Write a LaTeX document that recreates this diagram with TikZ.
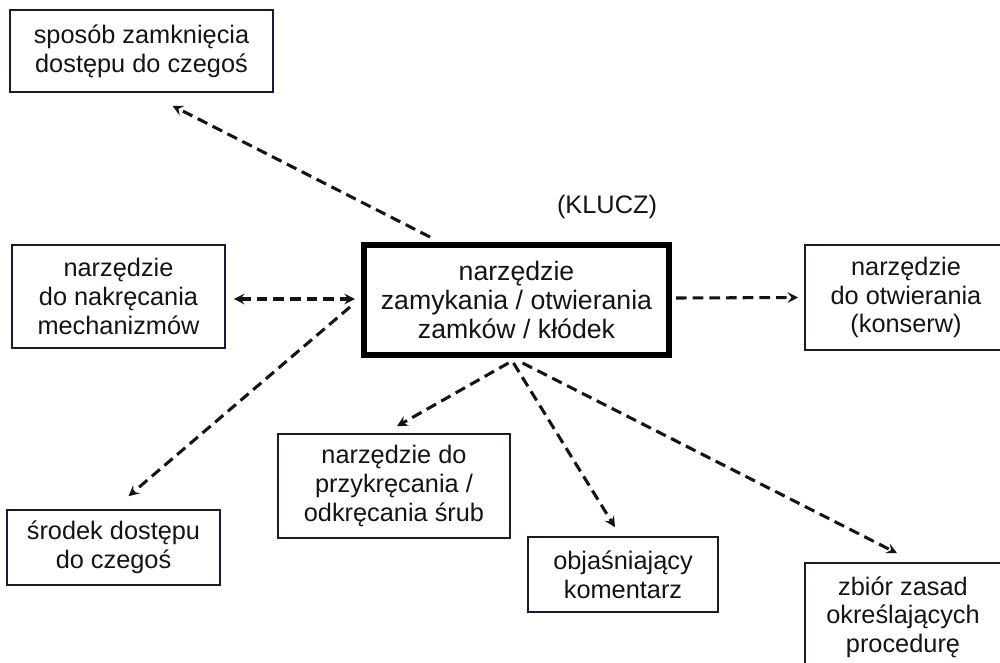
\documentclass[tikz,border=0pt]{standalone}
\usepackage{fontspec}
\setmainfont{Liberation Sans}
\usetikzlibrary{calc,arrows.meta}
\definecolor{boxline}{RGB}{25,25,55}
\definecolor{ink}{RGB}{20,20,20}
\begin{document}
\begin{tikzpicture}[x=0.75pt,y=-0.75pt,
  box/.style={draw=boxline, line width=1.2pt, align=center, inner sep=0pt,
    font=\fontsize{19pt}{21.5pt}\selectfont, text=ink},
  mainbox/.style={box, draw=black, line width=4.5pt, font=\fontsize{20pt}{22pt}\selectfont},
  tipstyle/.tip={Stealth[length=8pt,width=8pt,inset=3pt]},
  dasharrow/.style={draw=ink, line width=2.3pt, dash pattern=on 8pt off 4.5pt, -tipstyle},
  dasharrowboth/.style={dasharrow, tipstyle-tipstyle}]
\useasboundingbox (0,0) rectangle (1000,663);
\fill[white] (0,0) rectangle (1000,663);

\node[box, minimum width=197.25pt, minimum height=61.5pt] (s) at (141.5,51) {sposób zamknięcia\\dostępu do czegoś};
\node[box, minimum width=159.75pt, minimum height=77.25pt] (l) at (118.5,296.5) {narzędzie\\do nakręcania\\mechanizmów};
\node[box, minimum width=159.75pt, minimum height=56.25pt] (sr) at (113.5,547.5) {środek dostępu\\do czegoś};
\node[mainbox, minimum width=228.75pt, minimum height=82.5pt] (c) at (516.5,300) {narzędzie\\zamykania / otwierania\\zamków / kłódek};
\node[font=\fontsize{19pt}{21.5pt}\selectfont, text=ink, inner sep=0pt] (k) at (607,207) {(KLUCZ)};
\node[box, minimum width=151.5pt, minimum height=78.75pt] (r) at (906,297.5) {narzędzie\\do otwierania\\(konserw)};
\node[box, minimum width=174pt, minimum height=78pt] (p) at (394,486) {narzędzie do\\przykręcania /\\odkręcania śrub};
\node[box, minimum width=142.5pt, minimum height=56.25pt] (o) at (623,574.5) {objaśniający\\komentarz};
\node[box, minimum width=147pt, minimum height=81pt] (z) at (903,617) {zbiór zasad\\określających\\procedurę};

\coordinate (J) at ($(c.west)+(-6,-1)$);

\draw[dasharrow] ($(c.north west)+(69,-5)$) -- ($(s.south)+(31,13)$);
\draw[dasharrow] ($(c.east)+(4,-2)$) -- ($(r.west)+(-6,0)$);
\draw[dasharrowboth] ($(l.east)+(8,2.5)$) -- (J);
\draw[dasharrow] ($(J)+(-5,8)$) -- ($(sr.north)+(15,-13)$);
\draw[dasharrow] ($(c.south)+(-8,5)$) -- ($(p.north)+(3,-7)$);
\draw[dasharrow] ($(c.south)+(-3,5)$) -- ($(o.north)+(-8,-9)$);
\draw[dasharrow] ($(c.south)+(6,5)$) -- ($(z.north)+(-6,-9)$);
\end{tikzpicture}
\end{document}
